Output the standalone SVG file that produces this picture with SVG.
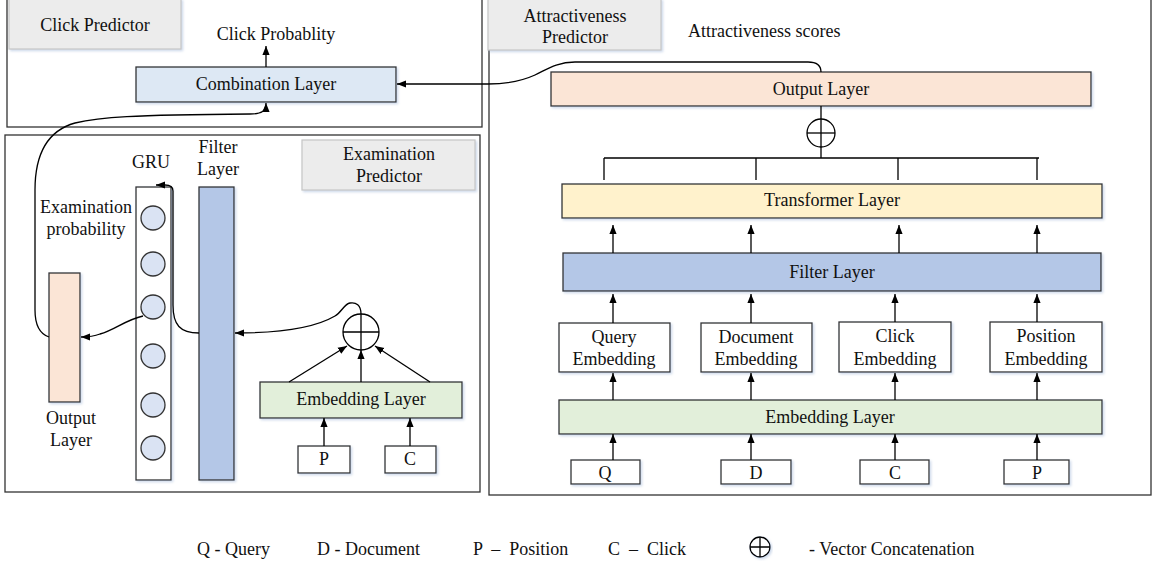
<svg xmlns="http://www.w3.org/2000/svg" width="1156" height="565" viewBox="0 0 1156 565">
<defs>
<marker id="ah" viewBox="0 0 10 10" refX="10" refY="5" markerWidth="9" markerHeight="9" orient="auto" markerUnits="userSpaceOnUse"><path d="M0,1 L10,5 L0,9 z" fill="#000"/></marker>
<filter id="sh" x="-10%" y="-10%" width="125%" height="130%"><feDropShadow dx="1.5" dy="1.5" stdDeviation="1" flood-color="#8fa9d0" flood-opacity="0.45"/></filter>
</defs>
<style>
text{font-family:"Liberation Serif","Times New Roman",serif;font-size:18px;fill:#111;text-anchor:middle}
.st{text-anchor:start}
.panel{fill:none;stroke:#333;stroke-width:1.3}
.lbl{fill:#ececec;stroke:#c6c6c6;stroke-width:1.2;filter:url(#sh)}
.box{stroke:#333;stroke-width:1.3;filter:url(#sh)}
.w{fill:#fff}
.blue{fill:#dde8f4}
.peach{fill:#fbe5d6}
.yellow{fill:#fff2cc}
.filt{fill:#b4c7e7}
.green{fill:#e2efda}
.cir{fill:#dae3f3;stroke:#333;stroke-width:1.3}
.ln{fill:none;stroke:#000;stroke-width:1.3}
.ar{fill:none;stroke:#000;stroke-width:1.3;marker-end:url(#ah)}
.plus{fill:#fff;stroke:#000;stroke-width:1.3}
</style>

<g id="click-predictor">
<rect class="panel" x="7" y="-2" width="475" height="129"/>
<rect class="lbl" x="9" y="-1" width="172" height="50"/>
<text x="95" y="31">Click Predictor</text>
<text x="276" y="40">Click Probablity</text>
</g>
<g id="combination-layer">
<rect class="box blue" x="136" y="67" width="260" height="35"/>
<text x="266" y="90">Combination Layer</text>
</g>

<g id="examination-predictor">
<rect class="panel" x="5" y="135" width="475" height="357"/>
<rect class="lbl" x="302" y="140" width="173" height="50"/>
<text x="389" y="160">Examination</text>
<text x="389" y="182">Predictor</text>
</g>
<g id="gru">
<text x="151" y="168">GRU</text>
<rect class="box w" x="136" y="187" width="35" height="293"/>
<circle class="cir" cx="153" cy="218" r="12"/>
<circle class="cir" cx="153" cy="264" r="12"/>
<circle class="cir" cx="153" cy="307" r="12"/>
<circle class="cir" cx="153" cy="356" r="12"/>
<circle class="cir" cx="153" cy="405" r="12"/>
<circle class="cir" cx="153" cy="448" r="12"/>
</g>
<g id="exam-filter-layer">
<text x="218" y="153">Filter</text>
<text x="218" y="175">Layer</text>
<rect class="box filt" x="199" y="187" width="35" height="293"/>
</g>
<g id="exam-output-layer">
<text x="86" y="213">Examination</text>
<text x="86" y="235">probability</text>
<rect class="box peach" x="49" y="273" width="31" height="129"/>
<text x="71" y="424">Output</text>
<text x="71" y="446">Layer</text>
</g>
<g id="exam-embedding-layer">
<rect class="box green" x="260" y="382" width="202" height="36"/>
<text x="361" y="405">Embedding Layer</text>
</g>
<g id="exam-p">
<rect class="box w" x="298" y="446" width="52" height="27"/>
<text x="324" y="465">P</text>
</g>
<g id="exam-c">
<rect class="box w" x="385" y="446" width="51" height="27"/>
<text x="410" y="465">C</text>
</g>
<g id="exam-concat">
<circle class="plus" cx="361" cy="332" r="18"/>
<path class="ln" d="M343,332 H379 M361,314 V350"/>
</g>

<g id="attractiveness-predictor">
<rect class="panel" x="489" y="-2" width="662" height="497"/>
<rect class="lbl" x="488" y="-1" width="173" height="51"/>
<text x="575" y="22">Attractiveness</text>
<text x="575" y="43">Predictor</text>
<text class="st" x="688" y="37">Attractiveness scores</text>
</g>
<g id="attr-output-layer">
<rect class="box peach" x="551" y="72" width="540" height="34"/>
<text x="821" y="95">Output Layer</text>
</g>
<g id="attr-concat">
<circle class="plus" cx="821" cy="133" r="14"/>
<path class="ln" d="M807,133 H835"/>
</g>
<g id="transformer-layer">
<rect class="box yellow" x="562" y="184" width="540" height="34"/>
<text x="832" y="206">Transformer Layer</text>
</g>
<g id="attr-filter-layer">
<rect class="box filt" x="563" y="253" width="538" height="38"/>
<text x="832" y="278">Filter Layer</text>
</g>
<g id="query-embedding">
<rect class="box w" x="559" y="323" width="111" height="49"/>
<text x="614" y="343">Query</text>
<text x="614" y="365">Embedding</text>
</g>
<g id="document-embedding">
<rect class="box w" x="701" y="323" width="111" height="49"/>
<text x="756" y="343">Document</text>
<text x="756" y="365">Embedding</text>
</g>
<g id="click-embedding">
<rect class="box w" x="839" y="322" width="112" height="50"/>
<text x="895" y="342">Click</text>
<text x="895" y="365">Embedding</text>
</g>
<g id="position-embedding">
<rect class="box w" x="990" y="322" width="112" height="50"/>
<text x="1046" y="342">Position</text>
<text x="1046" y="365">Embedding</text>
</g>
<g id="attr-embedding-layer">
<rect class="box green" x="559" y="400" width="543" height="34"/>
<text x="830" y="423">Embedding Layer</text>
</g>
<g id="attr-q">
<rect class="box w" x="571" y="460" width="69" height="24"/>
<text x="605" y="479">Q</text>
</g>
<g id="attr-d">
<rect class="box w" x="721" y="460" width="70" height="24"/>
<text x="756" y="479">D</text>
</g>
<g id="attr-c">
<rect class="box w" x="860" y="460" width="69" height="24"/>
<text x="895" y="479">C</text>
</g>
<g id="attr-p">
<rect class="box w" x="1004" y="460" width="65" height="24"/>
<text x="1037" y="479">P</text>
</g>

<g id="connectors">
<path class="ar" d="M266,67 V46"/>
<path class="ar" d="M49,337 C40,334 35,326 35,310 L35,190 C35,150 50,130 75,123 C100,117 130,115 250,114 C262,114 266,111 266,103"/>
<path class="ar" d="M821,72 C821,65 817,62 808,62 L575,62 C556,62 546,70 535,75 C524,80 510,84 488,84 L397,84"/>
<path class="ar" d="M143,316 C125,320 115,330 100,334 C95,336 90,337 81,337"/>
<path class="ar" d="M199,333 C180,333 173,325 173,305 L173,191 C173,187 170,185 165,185 L156,185"/>
<path class="ar" d="M361,314 C361,305 356,302 350,303 C344,304 342,312 335,316 C318,326 290,333 235,333"/>
<path class="ar" d="M289,382 L347,346"/>
<path class="ar" d="M361,382 V350"/>
<path class="ar" d="M430,382 L375,346"/>
<path class="ar" d="M324,446 V418"/>
<path class="ar" d="M410,446 V418"/>
<path class="ln" d="M821,106 V158 M604,158 H1039 M604,158 V180 M756,158 V180 M898,158 V180 M1037,158 V180"/>
<path class="ar" d="M613,253 V225"/>
<path class="ar" d="M751,253 V225"/>
<path class="ar" d="M899,253 V225"/>
<path class="ar" d="M1037,253 V225"/>
<path class="ar" d="M613,323 V294"/>
<path class="ar" d="M751,323 V294"/>
<path class="ar" d="M895,322 V294"/>
<path class="ar" d="M1037,322 V294"/>
<path class="ar" d="M613,400 V373"/>
<path class="ar" d="M751,400 V373"/>
<path class="ar" d="M895,400 V373"/>
<path class="ar" d="M1037,400 V373"/>
<path class="ar" d="M613,460 V434"/>
<path class="ar" d="M751,460 V434"/>
<path class="ar" d="M895,460 V434"/>
<path class="ar" d="M1037,460 V434"/>
</g>

<g id="legend">
<text class="st" x="197" y="555">Q - Query</text>
<text class="st" x="317" y="555">D - Document</text>
<text class="st" x="473" y="555" xml:space="preserve">P  –  Position</text>
<text class="st" x="608" y="555" xml:space="preserve">C  –  Click</text>
<circle class="plus" cx="760" cy="547" r="10" filter="url(#sh)"/>
<path class="ln" d="M750,547 H770 M760,537 V557"/>
<text class="st" x="809" y="555">- Vector Concatenation</text>
</g>
</svg>
